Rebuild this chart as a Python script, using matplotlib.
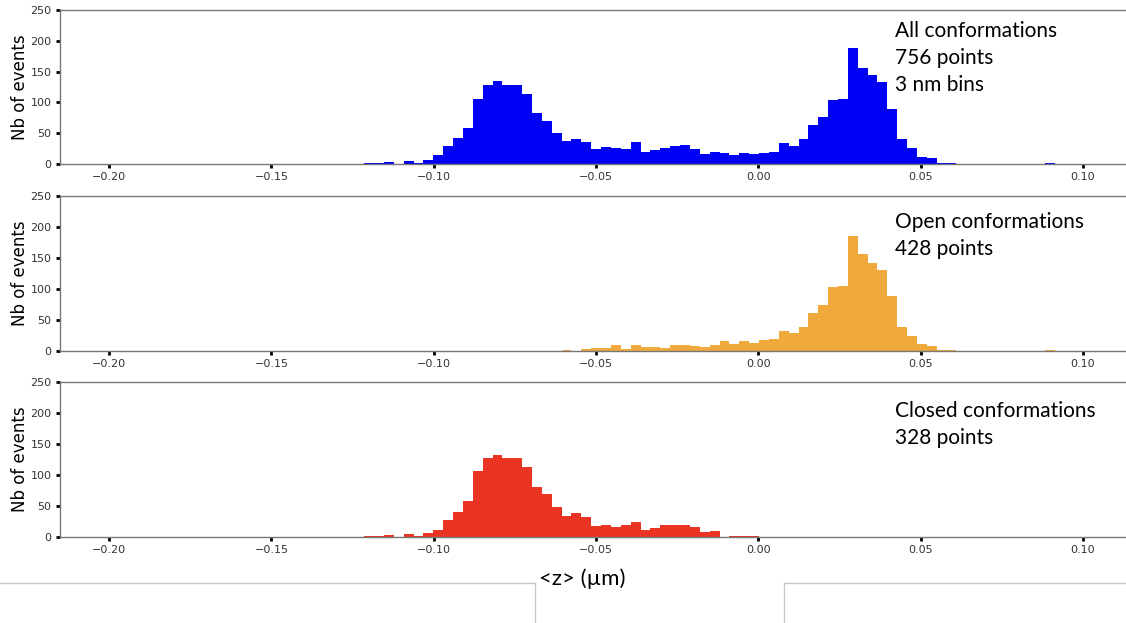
import numpy as np
import matplotlib
matplotlib.use("Agg")
import matplotlib.pyplot as plt
from matplotlib.lines import Line2D

# histogram counts per 3 nm bin
bin_start = -0.1214
bin_width = 0.00304

all_counts = [1, 2, 4, 0, 5, 2, 6, 14, 29, 42,
              58, 106, 129, 135, 129, 129, 114, 82, 70, 51,
              37, 40, 36, 24, 27, 26, 24, 36, 19, 23,
              26, 29, 31, 25, 16, 20, 18, 14, 18, 16,
              18, 20, 34, 30, 40, 63, 76, 104, 106, 188,
              156, 145, 133, 89, 41, 26, 12, 9, 2, 2,
              0, 0, 0, 0, 0, 0, 0, 0, 0, 1]

open_counts = [0, 0, 0, 0, 0, 0, 0, 0, 0, 0,
               0, 0, 0, 0, 0, 0, 0, 0, 0, 0,
               1, 0, 3, 5, 5, 9, 4, 10, 6, 6,
               5, 9, 9, 8, 6, 9, 16, 11, 16, 13,
               17, 19, 32, 29, 38, 62, 74, 104, 105, 186,
               156, 142, 131, 89, 38, 24, 12, 8, 2, 2,
               0, 0, 0, 0, 0, 0, 0, 0, 0, 1]

closed_counts = [1, 2, 4, 0, 5, 2, 6, 12, 27, 41,
                 58, 107, 127, 133, 127, 127, 113, 81, 69, 49,
                 34, 39, 33, 18, 20, 16, 19, 25, 11, 15,
                 20, 20, 20, 16, 8, 10, 0, 2, 1, 1,
                 0, 0, 0, 0, 0, 0, 0, 0, 0, 0,
                 0, 0, 0, 0, 0, 0, 0, 0, 0, 0,
                 0, 0, 0, 0, 0, 0, 0, 0, 0, 0]

labels = ["All conformations\n756 points\n3 nm bins",
          "Open conformations\n428 points",
          "Closed conformations\n328 points"]
colors = ["#0000f5", "#f0a93b", "#e93424"]
series = [all_counts, open_counts, closed_counts]

edges = bin_start + bin_width * np.arange(len(all_counts) + 1)
centres = 0.5 * (edges[:-1] + edges[1:])

W, H = 1126, 623
fig = plt.figure(figsize=(W / 100, H / 100), dpi=100)

# (top, bottom) of each panel in pixels
panels = [(10, 164), (196, 351), (382, 537)]
text_tops = [21, 212, 401]

for (top, bot), counts, col, lab, ty in zip(panels, series, colors, labels, text_tops):
    ax = fig.add_axes([60 / W, (H - bot) / H, 1075 / W, (bot - top) / H])
    ax.hist(centres, bins=edges, weights=counts, color=col, linewidth=0)
    ax.set_xlim(-0.2151, 0.1160)
    ax.set_ylim(0, 250)
    ax.set_xticks([-0.20, -0.15, -0.10, -0.05, 0.00, 0.05, 0.10])
    ax.set_yticks([0, 50, 100, 150, 200, 250])
    ax.tick_params(direction="out", length=3, width=2, color="black",
                   labelsize=8, labelcolor="#333333", pad=3)
    for s in ax.spines.values():
        s.set_color("#777777")
        s.set_linewidth(1)
    ax.set_ylabel("Nb of events", fontsize=12, labelpad=1)
    fig.text(895 / W, 1 - ty / H, lab, family="Lato", fontsize=15,
             va="top", ha="left", linespacing=1.45)

fig.text(582 / W, 1 - 579 / H, "<z> (µm)", family="Lato", fontsize=16,
         ha="center", va="center")

# slide borders under the chart
grey = "#c8c8c8"
for xs, ys in [([0, 535], [583, 583]), ([535, 535], [583, 623]),
               ([784, 1126], [583, 583]), ([784, 784], [583, 623])]:
    fig.add_artist(Line2D([x / W for x in xs], [1 - y / H for y in ys],
                          color=grey, linewidth=1, transform=fig.transFigure))

fig.savefig("out.png", dpi=100)
